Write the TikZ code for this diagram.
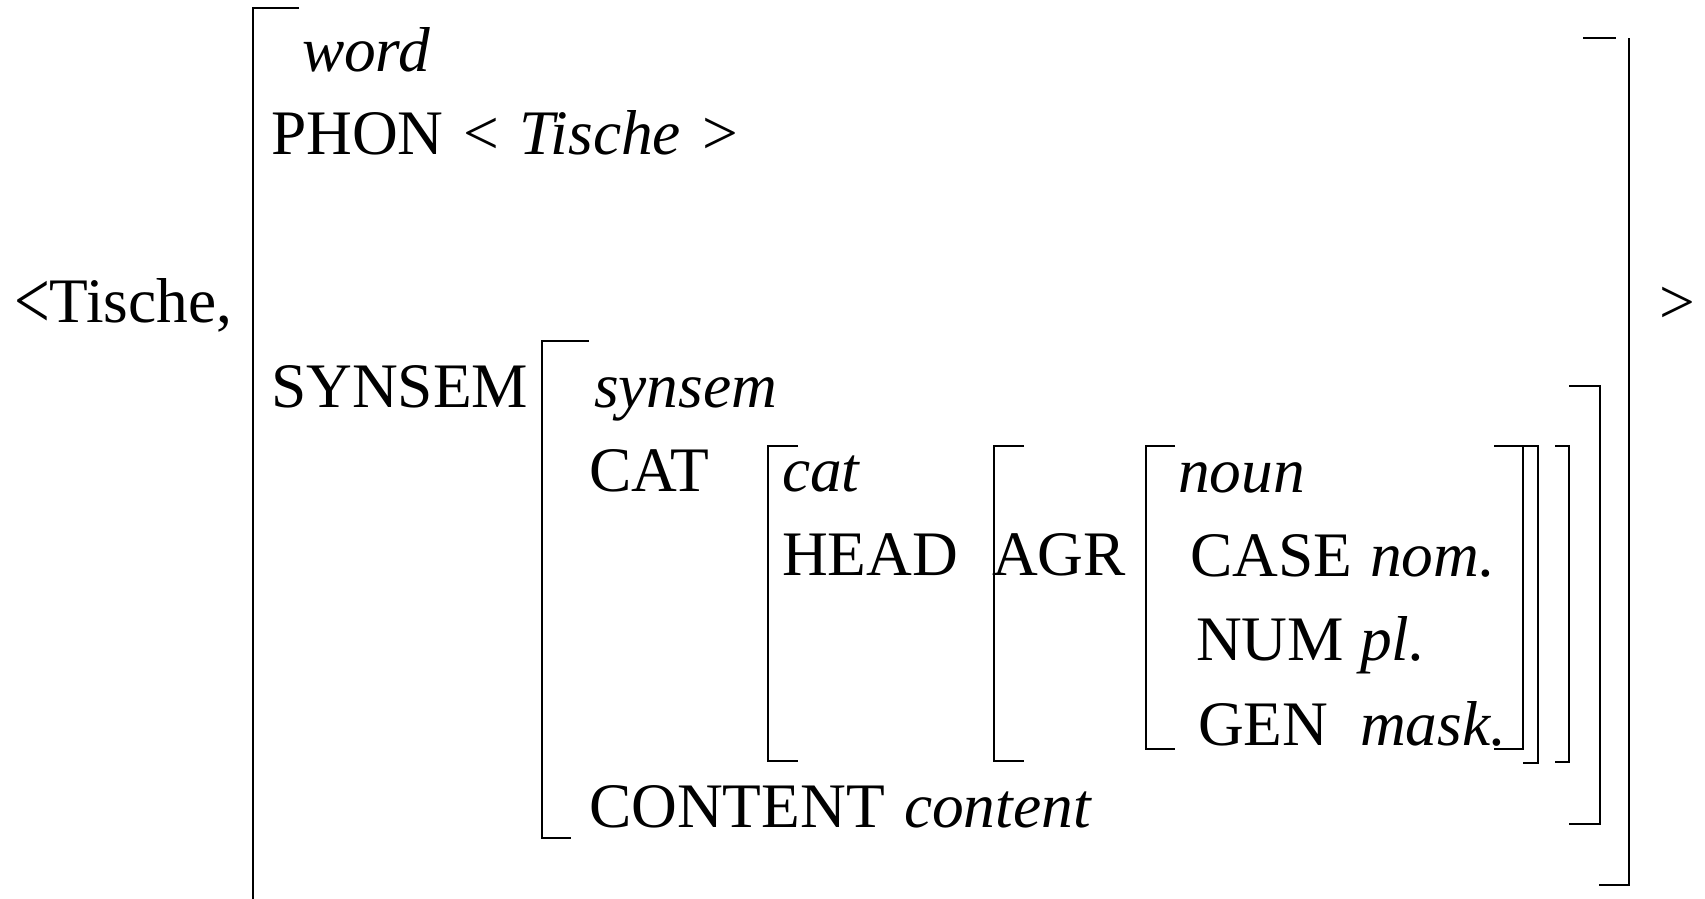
\documentclass[tikz,border=0pt]{standalone}
\usepackage{fontspec}
\usepackage{graphicx}
\setmainfont{Liberation Serif}
\tikzset{
  fs/.style={font=\fontsize{63.4}{76}\selectfont},
  lbl/.style={anchor=base west, inner sep=0pt, outer sep=0pt, fs},
  val/.style={lbl, font=\fontsize{63.4}{76}\selectfont\itshape},
  brk/.style={line width=2pt, line join=miter}
}
\begin{document}
\begin{tikzpicture}[x=1pt, y=-1pt]
\useasboundingbox (0,0) rectangle (1705,898);

% outer pair
\node[lbl] (pair) at (14,322) {\raisebox{-6pt}{\scalebox{1}[1.3]{<}}Tische,};
\node[lbl] (close) at (1659,323) {>};

% word
\node[val] (word) at (302,71) {word};
\node[lbl] (phon) at (271,154) {PHON};
\node[lbl] (lt) at (463,154) {<};
\node[val] (tische) at (519,154) {Tische};
\node[lbl] (gt) at (702,154) {>};
\node[lbl] (synsemf) at (271,407) {SYNSEM};

% synsem
\node[val] (synsem) at (594,407) {synsem};
\node[lbl] (catf) at (589,491) {CAT};
\node[lbl] (contf) at (589,827) {CONTENT};
\node[val] (content) at (904,827) {content};

% cat
\node[val] (cat) at (782,491) {cat};
\node[lbl] (headf) at (782,575) {HEAD};
\node[lbl] (agrf) at (992,575) {AGR};

% noun
\node[val] (noun) at (1178,492) {noun};
\node[lbl] (casef) at (1190,576) {CASE};
\node[val] (nom) at (1370,576) {nom.};
\node[lbl] (numf) at (1196,660) {NUM};
\node[val] (pl) at (1360,660) {pl.};
\node[lbl] (genf) at (1198,745) {GEN};
\node[val] (mask) at (1360,745) {mask.};

% outer brackets
\draw[brk] (299,8) -- (253,8) -- (253,905);
\draw[brk] (1583,38) -- (1616,38);
\draw[brk] (1629,38) -- (1629,885) -- (1599,885);

% SYNSEM value brackets
\draw[brk] (589,341) -- (542,341) -- (542,838) -- (571,838);
\draw[brk] (1569,386) -- (1600,386) -- (1600,824) -- (1569,824);

% CAT value brackets
\draw[brk] (798,446) -- (768,446) -- (768,761) -- (798,761);
\draw[brk] (1555,446) -- (1569,446) -- (1569,762) -- (1555,762);

% HEAD value brackets
\draw[brk] (1024,446) -- (994,446) -- (994,761) -- (1024,761);
\draw[brk] (1523,446) -- (1538,446) -- (1538,763) -- (1523,763);

% AGR value brackets
\draw[brk] (1175,446) -- (1146,446) -- (1146,749) -- (1175,749);
\draw[brk] (1494,446) -- (1523,446) -- (1523,749) -- (1494,749);
\end{tikzpicture}
\end{document}
